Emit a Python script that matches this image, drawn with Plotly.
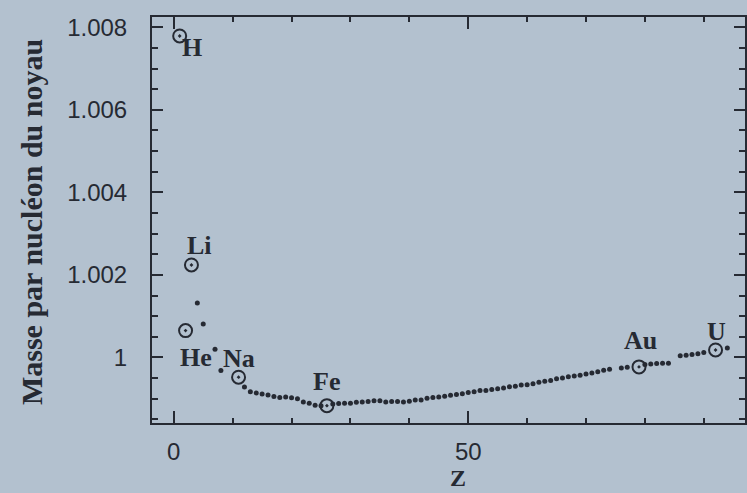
import plotly.graph_objects as go

# ---- data ----
el_names = ["H", "He", "Li", "Na", "Fe", "Au", "U"]
el_z = [1, 2, 3, 11, 26, 79, 92]
el_mass = [1.00779, 1.00065, 1.00224, 0.99952, 0.99883, 0.99977, 1.00018]

light_z = [4, 5, 7, 8]
light_mass = [1.00132, 1.00081, 1.00020, 0.99968]

curve_z = [12, 13, 14, 15, 16, 17, 18, 19, 20, 21, 22, 23, 24, 25,
           27, 28, 29, 30, 31, 32, 33, 34, 35, 36, 37, 38, 39, 40,
           41, 42, 43, 44, 45, 46, 47, 48, 49, 50, 51, 52, 53, 54, 55,
           56, 57, 58, 59, 60, 61, 62, 63, 64, 65, 66, 67, 68, 69, 70,
           71, 72, 73, 74, 76, 77,
           80, 81, 82, 83, 84, 86, 87, 88, 89, 90, 94]
curve_mass = [0.99928, 0.99917, 0.99914, 0.99911, 0.99909, 0.99905, 0.99903,
              0.99904, 0.99902, 0.99900, 0.99892, 0.99889, 0.99884, 0.99883,
              0.99887, 0.99888, 0.99889, 0.99889, 0.99891, 0.99892, 0.99893,
              0.99895, 0.99895, 0.99892, 0.99893, 0.99893, 0.99892, 0.99894,
              0.99897, 0.99897, 0.99901, 0.99903, 0.99904, 0.99906, 0.99908,
              0.99910, 0.99912, 0.99915, 0.99917, 0.99920, 0.99920, 0.99922,
              0.99924, 0.99926, 0.99929, 0.99930, 0.99933, 0.99934, 0.99936,
              0.99940, 0.99942, 0.99944, 0.99948, 0.99950, 0.99953, 0.99955,
              0.99957, 0.99960, 0.99962, 0.99965, 0.99969, 0.99971, 0.99974,
              0.99976,
              0.99983, 0.99984, 0.99985, 0.99986, 0.99986, 1.00004, 1.00005,
              1.00007, 1.00009, 1.00012, 1.00023]

y_tickvals = [1.000, 1.002, 1.004, 1.006, 1.008]
y_ticktext = ["1", "1.002", "1.004", "1.006", "1.008"]
x_tickvals = [0, 50]
x_ticktext = ["0", "50"]
x_range = [-3.7, 97]
y_range = [0.99841, 1.00825]

# ---- styles ----
INK = "#262a33"
BG = "#b3c1cf"
label_shift = {"H": (12, -12), "He": (10, -27), "Li": (8, 19), "Na": (0, 19),
               "Fe": (0, 24), "Au": (1, 26), "U": (1, 18)}

fig = go.Figure()
fig.add_trace(go.Scatter(x=curve_z, y=curve_mass, mode="markers",
                         marker=dict(size=5, color=INK), hoverinfo="skip"))
fig.add_trace(go.Scatter(x=light_z, y=light_mass, mode="markers",
                         marker=dict(size=5, color=INK), hoverinfo="skip"))
fig.add_trace(go.Scatter(x=el_z, y=el_mass, mode="markers",
                         marker=dict(symbol="circle-open-dot", size=13, color=INK,
                                     line=dict(width=2, color=INK)),
                         hoverinfo="skip"))
# invisible trace to carry the mirrored (top / right) tick axes
fig.add_trace(go.Scatter(x=x_range, y=y_range, xaxis="x2", yaxis="y2",
                         mode="markers", marker=dict(opacity=0),
                         hoverinfo="skip"))

for name, z, m in zip(el_names, el_z, el_mass):
    dx, dy = label_shift[name]
    fig.add_annotation(x=z, y=m, text="<b>%s</b>" % name, showarrow=False,
                       xshift=dx, yshift=dy,
                       font=dict(family="Liberation Serif", size=26, color=INK))

fig.add_annotation(xref="paper", yref="paper", x=-0.204, y=0.495,
                   text="<b>Masse par nucléon du noyau</b>", textangle=-90,
                   showarrow=False, xanchor="center", yanchor="middle",
                   font=dict(family="Liberation Serif", size=30, color=INK))
fig.add_annotation(xref="paper", yref="paper", x=0.516, y=-0.1695,
                   text="<b>Z</b>", showarrow=False, xanchor="center",
                   yanchor="bottom", borderpad=0,
                   font=dict(family="Liberation Serif", size=24, color=INK))

tickfont = dict(family="Liberation Sans", size=24, color=INK)
common = dict(ticks="inside", tickwidth=2, tickcolor=INK, showline=True,
              linewidth=2, linecolor=INK, showgrid=False, zeroline=False)

fig.update_layout(
    width=747, height=493,
    margin=dict(l=152, r=2, t=17, b=70),
    paper_bgcolor=BG, plot_bgcolor=BG,
    showlegend=False,
    xaxis=dict(range=x_range, tickmode="array", tickvals=x_tickvals,
               ticktext=x_ticktext, ticklen=12, ticklabelstandoff=6,
               tickfont=tickfont,
               minor=dict(dtick=10, tick0=0, ticks="inside", ticklen=5,
                          tickwidth=2, tickcolor=INK, showgrid=False),
               **common),
    xaxis2=dict(range=x_range, overlaying="x", side="top", anchor="y2",
                tickmode="array", tickvals=x_tickvals, ticklen=12,
                showticklabels=False,
                minor=dict(dtick=10, tick0=0, ticks="inside", ticklen=5,
                           tickwidth=2, tickcolor=INK, showgrid=False),
                **common),
    yaxis=dict(range=y_range, tickmode="array", tickvals=y_tickvals,
               ticktext=y_ticktext, ticklen=11, ticklabelstandoff=18,
               tickfont=tickfont,
               minor=dict(dtick=0.0005, tick0=1.0, ticks="inside", ticklen=6,
                          tickwidth=2, tickcolor=INK, showgrid=False),
               **common),
    yaxis2=dict(range=y_range, overlaying="y", side="right", anchor="x2",
                tickmode="array", tickvals=y_tickvals, ticklen=11,
                showticklabels=False,
                minor=dict(dtick=0.0005, tick0=1.0, ticks="inside", ticklen=6,
                           tickwidth=2, tickcolor=INK, showgrid=False),
                **common),
)

fig.write_html("out.html")
